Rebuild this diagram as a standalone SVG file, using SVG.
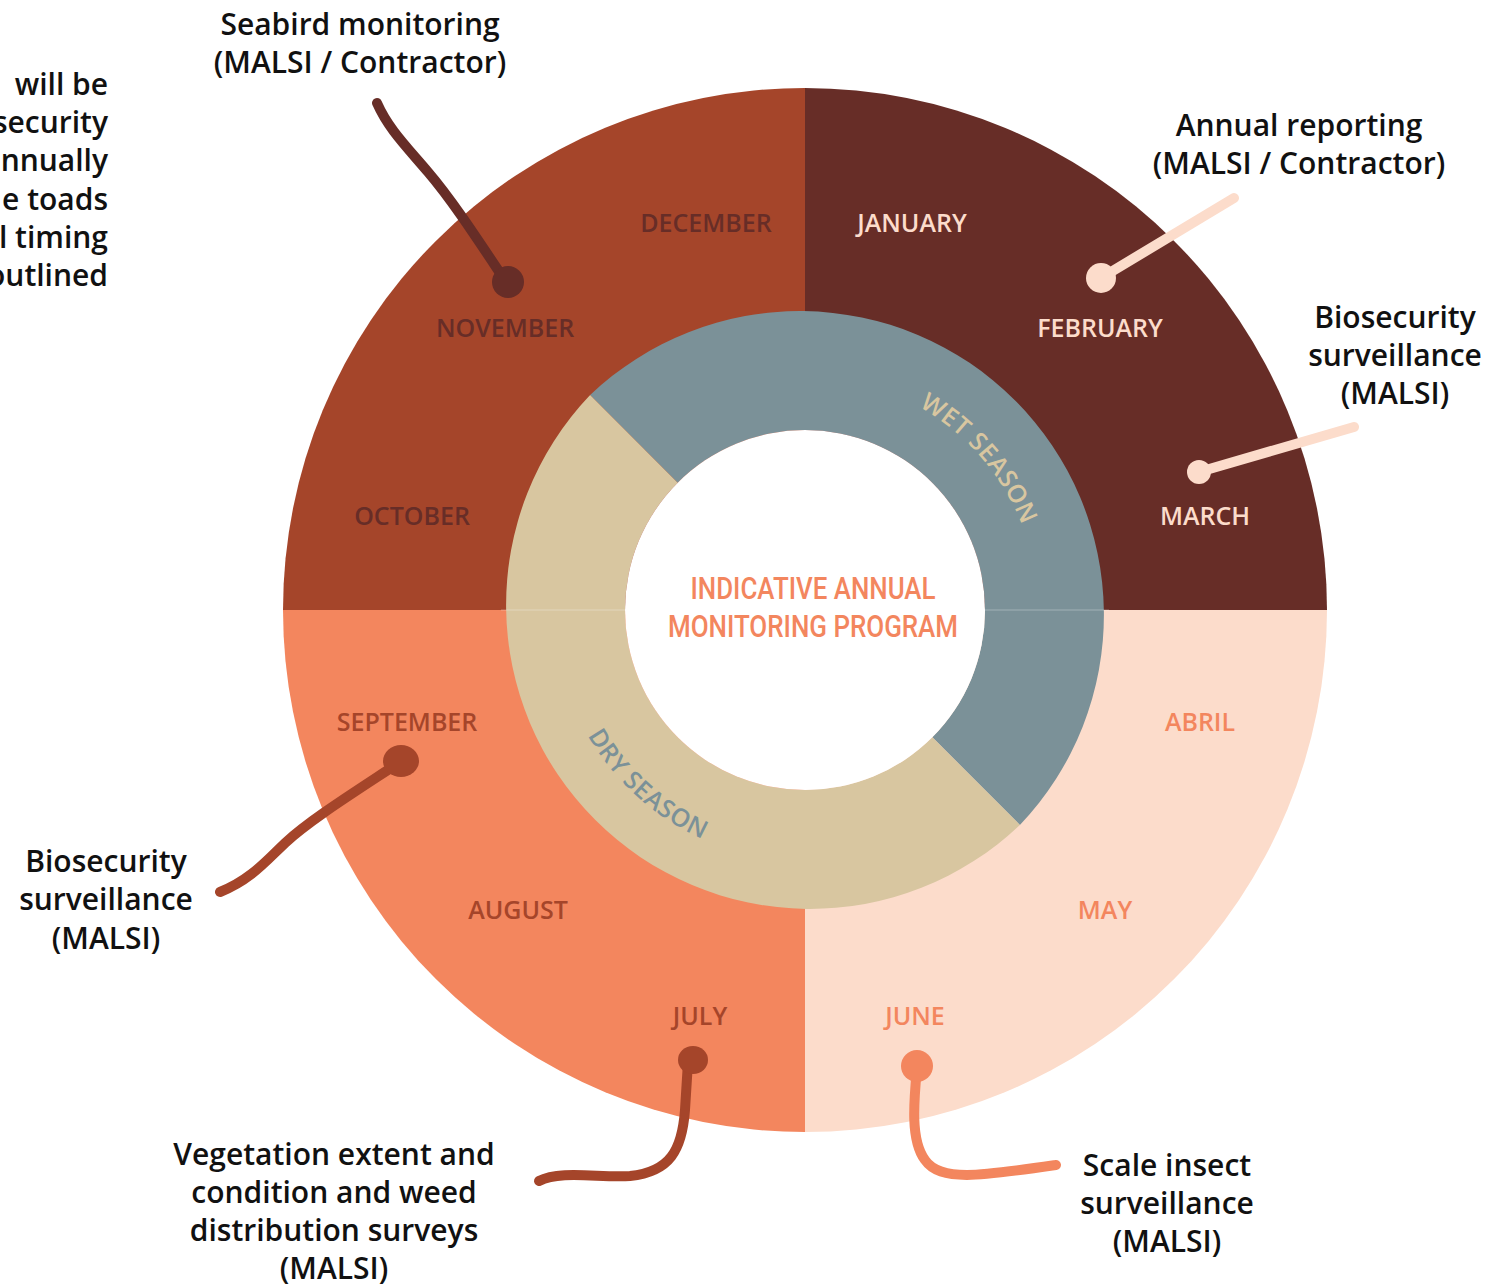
<svg xmlns="http://www.w3.org/2000/svg" width="1506" height="1285" viewBox="0 0 1506 1285">
  <style>
    .callout { font-family: "Open Sans", "Noto Sans", sans-serif; font-weight: 600; font-size: 30px; fill: #111111; text-anchor: middle; }
    .side { font-family: "Open Sans", "Noto Sans", sans-serif; font-weight: 600; font-size: 30px; fill: #111111; text-anchor: end; }
    .month { font-family: "Open Sans", "Noto Sans", sans-serif; font-weight: 600; font-size: 25px; text-anchor: middle; }
    .season { font-family: "Open Sans", "Noto Sans", sans-serif; font-weight: 600; font-size: 25px; letter-spacing: 0.5px; }
    .title { font-family: Roboto, "Liberation Sans", sans-serif; font-weight: 500; font-size: 31px; fill: #F3865E; text-anchor: middle; }
    .lead { fill: none; stroke-width: 10; stroke-linecap: round; stroke-linejoin: round; }
  </style>
  <defs>
    <path id="wetArc" d="M 821.3 377.6 A 233 233 0 0 1 1037.4 626.3"/>
    <path id="dryArc" d="M 556.4 644.9 A 251 251 0 0 0 796.2 860.8"/>
  </defs>

  <rect width="1506" height="1285" fill="#ffffff"/>

  <!-- outer wheel: one quarter per season block -->
  <g id="wheel">
    <path d="M805 610 L283 610 A522 522 0 0 1 805 88 Z" fill="#A5452A"/>
    <path d="M805 610 L805 88 A522 522 0 0 1 1327 610 Z" fill="#672D27"/>
    <path d="M805 610 L1327 610 A522 522 0 0 1 805 1132 Z" fill="#FCDCCB"/>
    <path d="M805 610 L805 1132 A522 522 0 0 1 283 610 Z" fill="#F3865E"/>
  </g>

  <!-- inner season ring -->
  <g id="seasons">
    <path d="M590.1 395.1 A304 304 0 0 1 1019.9 824.9 L932.3 737.3 A180 180 0 0 0 677.7 482.7 Z" fill="#7B9198"/>
    <path d="M1019.9 824.9 A304 304 0 0 1 590.1 395.1 L677.7 482.7 A180 180 0 0 0 932.3 737.3 Z" fill="#D8C6A0"/>
    <line x1="501" y1="610" x2="625" y2="610" stroke="#ffffff" stroke-opacity="0.3" stroke-width="1"/>
    <line x1="985" y1="610" x2="1109" y2="610" stroke="#ffffff" stroke-opacity="0.3" stroke-width="1"/>
    <circle cx="805" cy="610" r="180" fill="#ffffff"/>
    <text class="season" fill="#D8C6A0"><textPath href="#wetArc" startOffset="50%" text-anchor="middle">WET SEASON</textPath></text>
    <text class="season" fill="#7B9198"><textPath href="#dryArc" startOffset="50%" text-anchor="middle">DRY SEASON</textPath></text>
  </g>

  <!-- month labels -->
  <g id="months">
    <text class="month" x="706" y="232" fill="#672D27">DECEMBER</text>
    <text class="month" x="505" y="337" fill="#672D27">NOVEMBER</text>
    <text class="month" x="412" y="525" fill="#672D27">OCTOBER</text>
    <text class="month" x="912" y="232" fill="#FCDCCB">JANUARY</text>
    <text class="month" x="1100" y="337" fill="#FCDCCB">FEBRUARY</text>
    <text class="month" x="1205" y="525" fill="#FCDCCB">MARCH</text>
    <text class="month" x="407" y="731" fill="#A5452A">SEPTEMBER</text>
    <text class="month" x="518" y="919" fill="#A5452A">AUGUST</text>
    <text class="month" x="700" y="1025" fill="#A5452A">JULY</text>
    <text class="month" x="1200" y="731" fill="#F3865E">ABRIL</text>
    <text class="month" x="1105" y="919" fill="#F3865E">MAY</text>
    <text class="month" x="915" y="1025" fill="#F3865E">JUNE</text>
  </g>

  <!-- centre title -->
  <g id="title">
    <text class="title" x="813" y="599" textLength="245" lengthAdjust="spacingAndGlyphs">INDICATIVE ANNUAL</text>
    <text class="title" x="813" y="637" textLength="290" lengthAdjust="spacingAndGlyphs">MONITORING PROGRAM</text>
  </g>

  <!-- leader lines from activities to months -->
  <g id="connectors">
    <path class="lead" stroke="#672D27" d="M377 103 C388 128 405 145 428 172 C452 200 478 240 506 282"/>
    <circle cx="508" cy="282" r="16" fill="#672D27"/>

    <path class="lead" stroke="#FCDCCB" d="M1234 198 L1101 278"/>
    <circle cx="1101" cy="278" r="15" fill="#FCDCCB"/>

    <path class="lead" stroke="#FCDCCB" d="M1354 427 L1199 472"/>
    <circle cx="1199" cy="472" r="12" fill="#FCDCCB"/>

    <path class="lead" stroke="#A5452A" d="M220 892 C250 880 265 862 285 843 C310 820 350 795 400 762"/>
    <ellipse cx="401" cy="761" rx="18" ry="16" fill="#A5452A"/>

    <path class="lead" stroke="#A5452A" d="M539 1181 C560 1170 600 1178 630 1176 C670 1172 682 1150 685 1110 L688 1062"/>
    <ellipse cx="693" cy="1060" rx="15" ry="14" fill="#A5452A"/>

    <path class="lead" stroke="#F3865E" d="M917 1068 C914 1100 910 1140 925 1160 C940 1182 980 1176 1056 1165"/>
    <circle cx="917" cy="1066" r="16" fill="#F3865E"/>
  </g>

  <!-- activity callouts -->
  <g id="note-left">
    <text class="side" x="108" y="95">will be</text>
    <text class="side" x="108" y="133">security</text>
    <text class="side" x="108" y="171">nnually</text>
    <text class="side" x="108" y="210">e toads</text>
    <text class="side" x="108" y="248">l timing</text>
    <text class="side" x="108" y="286">outlined</text>
  </g>
  <g id="seabird">
    <text class="callout" x="360" y="35">Seabird monitoring</text>
    <text class="callout" x="360" y="73">(MALSI / Contractor)</text>
  </g>
  <g id="annual-reporting">
    <text class="callout" x="1299" y="136">Annual reporting</text>
    <text class="callout" x="1299" y="174">(MALSI / Contractor)</text>
  </g>
  <g id="biosecurity-wet">
    <text class="callout" x="1395" y="328">Biosecurity</text>
    <text class="callout" x="1395" y="366">surveillance</text>
    <text class="callout" x="1395" y="404">(MALSI)</text>
  </g>
  <g id="biosecurity-dry">
    <text class="callout" x="106" y="872">Biosecurity</text>
    <text class="callout" x="106" y="910">surveillance</text>
    <text class="callout" x="106" y="949">(MALSI)</text>
  </g>
  <g id="vegetation">
    <text class="callout" x="334" y="1165">Vegetation extent and</text>
    <text class="callout" x="334" y="1203">condition and weed</text>
    <text class="callout" x="334" y="1241">distribution surveys</text>
    <text class="callout" x="334" y="1279">(MALSI)</text>
  </g>
  <g id="scale-insect">
    <text class="callout" x="1167" y="1176">Scale insect</text>
    <text class="callout" x="1167" y="1214">surveillance</text>
    <text class="callout" x="1167" y="1252">(MALSI)</text>
  </g>
</svg>
